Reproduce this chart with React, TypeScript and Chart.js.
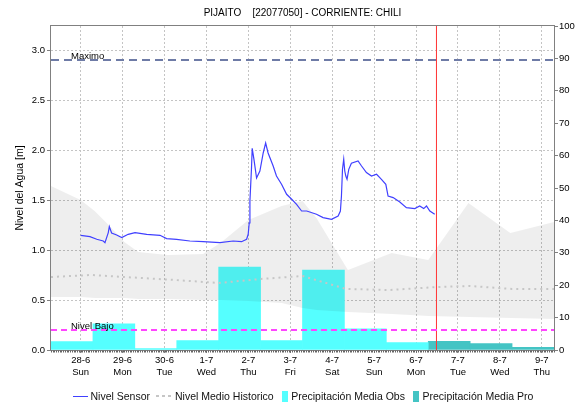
import React, { useEffect, useRef } from 'react';
import { Chart, registerables } from 'chart.js';

Chart.register(...registerables);

// ---------- text ----------
const TITLE = 'PIJAITO    [22077050] - CORRIENTE: CHILI';
const Y_TITLE = 'Nivel del Agua [m]';
const LABEL_MAXIMO = 'Maximo';
const LABEL_BAJO = 'Nivel Bajo';
const LEGEND_SENSOR = 'Nivel Sensor';
const LEGEND_MEAN = 'Nivel Medio Historico';
const LEGEND_OBS = 'Precipitación Media Obs';
const LEGEND_PRO = 'Precipitación Media Pro';

// ---------- axes (x in hours from 28-6 00:00) ----------
const X_MIN = -17; // 27-6 07:00
const X_MAX = 271; // 9-7 07:00
const dayTicks = [0, 24, 48, 72, 96, 120, 144, 168, 192, 216, 240, 264];
const dayLabels = ['28-6', '29-6', '30-6', '1-7', '2-7', '3-7', '4-7', '5-7', '6-7', '7-7', '8-7', '9-7'];
const dayNames = ['Sun', 'Mon', 'Tue', 'Wed', 'Thu', 'Fri', 'Sat', 'Sun', 'Mon', 'Tue', 'Wed', 'Thu'];
const LEVEL_MAX = 3.24;
const levelTicks = [0, 0.5, 1.0, 1.5, 2.0, 2.5, 3.0];
const PRECIP_MAX = 100;
const precipTicks = [0, 10, 20, 30, 40, 50, 60, 70, 80, 90, 100];

// ---------- series ----------
const sensorHours = [
  0, 5.3, 9.2, 12.9, 13.9, 15.8, 16.4, 17.7, 20.6, 23.5, 27.2, 31.1, 37.8, 45.4, 49.2, 54.9,
  62.5, 70.2, 79.7, 87.3, 92.1, 95.0, 95.9, 96.5, 96.9, 97.8, 98.2, 99.2, 100.7, 102.6, 104.5,
  105.9, 107.3, 110.2, 112.1, 115.0, 117.9, 120.8, 123.6, 126.5, 129.4, 135.0, 138.8, 143.6,
  147.4, 148.7, 149.3, 149.9, 150.6, 151.2, 151.8, 152.5, 153.5, 155.0, 158.8, 160.8, 163.6,
  166.5, 169.4, 172.2, 174.7, 176.0, 178.9, 182.7, 186.5, 191.3, 194.1, 196.4, 198.0, 199.9, 202.7,
];
const sensorLevel = [
  1.147, 1.134, 1.107, 1.09, 1.074, 1.174, 1.234, 1.17, 1.15, 1.124, 1.157, 1.174, 1.157, 1.147, 1.114, 1.107,
  1.09, 1.083, 1.074, 1.09, 1.083, 1.107, 1.157, 1.27, 1.49, 1.82, 2.017, 1.907, 1.72, 1.79, 1.97,
  2.07, 1.97, 1.84, 1.74, 1.657, 1.557, 1.507, 1.457, 1.39, 1.39, 1.357, 1.324, 1.307,
  1.34, 1.39, 1.54, 1.807, 1.907, 1.79, 1.74, 1.707, 1.807, 1.867, 1.89, 1.84, 1.774,
  1.74, 1.757, 1.707, 1.657, 1.54, 1.524, 1.48, 1.424, 1.414, 1.44, 1.414, 1.44, 1.39, 1.357,
];

const bandHours = [-17, 0, 8, 16, 25, 33, 50, 70, 80, 96, 115, 127, 135, 153, 178, 199, 222, 246, 271];
const bandUpper = [1.64, 1.5, 1.39, 1.25, 1.08, 0.98, 0.95, 0.96, 1.07, 1.3, 1.44, 1.49, 1.32, 0.8, 0.97, 0.9, 1.47, 1.17, 1.28];
const bandLower = [0.53, 0.53, 0.52, 0.52, 0.52, 0.51, 0.51, 0.5, 0.5, 0.49, 0.47, 0.42, 0.4, 0.38, 0.36, 0.34, 0.33, 0.32, 0.31];

const meanHours = [-17, 6, 25, 54, 79, 103, 127, 152, 177, 204, 223, 247, 271];
const meanLevel = [0.73, 0.75, 0.73, 0.7, 0.67, 0.71, 0.74, 0.61, 0.6, 0.63, 0.64, 0.61, 0.61];

const obsHours = [-5, 19, 43, 67, 91, 115, 139, 163, 187];
const obsPrecip = [2.6, 8.1, 0.4, 2.9, 25.6, 2.9, 24.7, 6.5, 2.3];
const proHours = [211, 235, 259];
const proPrecip = [2.65, 2.0, 0.8];

const MAXIMO_LEVEL = 2.9;
const BAJO_LEVEL = 0.2;
const NOW_HOUR = 203.7;

// ---------- styles ----------
const FONT = '"Liberation Sans", Arial, sans-serif';
const SENSOR_COLOR = '#4040ff';
const MEAN_COLOR = '#c6c6c6';
const OBS_COLOR = '#55ffff';
const PRO_COLOR = '#44c4c4';
const MAX_COLOR = '#6e7ba6';
const BAJO_COLOR = '#ff44ff';
const NOW_COLOR = '#ff3333';
const GRID_COLOR = '#c4c4c4';
const FRAME_COLOR = '#808080';

const zip = (xs: number[], ys: number[]) => xs.map((x, i) => ({ x, y: ys[i] }));

const decorPlugin = {
  id: 'decor',
  afterDraw(chart: any) {
    const { ctx, chartArea } = chart;
    const { left, right, top, bottom } = chartArea;
    const xs = chart.scales.x;
    const ys = chart.scales.y;
    ctx.save();
    // frame
    ctx.strokeStyle = FRAME_COLOR;
    ctx.lineWidth = 1;
    ctx.strokeRect(left - 0.5, top - 0.5, right - left + 1, bottom - top + 1);
    // minor hourly ticks
    ctx.strokeStyle = '#666';
    ctx.beginPath();
    for (let h = Math.ceil(X_MIN); h <= X_MAX; h++) {
      const px = Math.round(xs.getPixelForValue(h)) + 0.5;
      ctx.moveTo(px, bottom + 0.5);
      ctx.lineTo(px, bottom + 2.5);
    }
    ctx.stroke();
    // title
    ctx.fillStyle = '#000';
    ctx.font = '10px ' + FONT;
    ctx.textAlign = 'center';
    ctx.textBaseline = 'middle';
    ctx.fillText(TITLE, (left + right) / 2, 13);
    // threshold labels
    ctx.font = '9.5px ' + FONT;
    ctx.textAlign = 'left';
    ctx.textBaseline = 'alphabetic';
    ctx.fillText(LABEL_MAXIMO, left + 20, ys.getPixelForValue(MAXIMO_LEVEL) - 1);
    ctx.fillText(LABEL_BAJO, left + 20, ys.getPixelForValue(BAJO_LEVEL) - 1);
    ctx.restore();
  },
};

export default function App() {
  const ref = useRef<HTMLCanvasElement>(null);

  useEffect(() => {
    if (!ref.current) return;
    const lineBase = { type: 'line' as const, pointRadius: 0, pointHoverRadius: 0, tension: 0, fill: false, yAxisID: 'y' };
    const chart = new Chart(ref.current, {
      type: 'line',
      data: {
        datasets: [
          { ...lineBase, label: LEGEND_SENSOR, data: zip(sensorHours, sensorLevel), borderColor: SENSOR_COLOR, borderWidth: 1.2, order: 0 },
          { ...lineBase, label: LEGEND_MEAN, data: zip(meanHours, meanLevel), borderColor: MEAN_COLOR, borderWidth: 2, borderDash: [2, 4], order: 1 },
          { ...lineBase, label: LABEL_MAXIMO, data: [{ x: X_MIN, y: MAXIMO_LEVEL }, { x: X_MAX, y: MAXIMO_LEVEL }], borderColor: MAX_COLOR, borderWidth: 2, borderDash: [8, 5], order: 2 },
          { ...lineBase, label: LABEL_BAJO, data: [{ x: X_MIN, y: BAJO_LEVEL }, { x: X_MAX, y: BAJO_LEVEL }], borderColor: BAJO_COLOR, borderWidth: 2, borderDash: [6, 4], order: 2 },
          { ...lineBase, label: 'now', data: [{ x: NOW_HOUR, y: 0 }, { x: NOW_HOUR, y: LEVEL_MAX }], borderColor: NOW_COLOR, borderWidth: 1, order: 2 },
          { ...lineBase, label: 'max hist', data: zip(bandHours, bandUpper), borderColor: 'rgba(0,0,0,0)', borderWidth: 1, fill: 6, backgroundColor: 'rgba(0,0,0,0.065)', order: 4 },
          { ...lineBase, label: 'min hist', data: zip(bandHours, bandLower), borderColor: 'rgba(0,0,0,0)', borderWidth: 1, order: 5 },
          { type: 'bar', label: LEGEND_OBS, data: zip(obsHours, obsPrecip), backgroundColor: OBS_COLOR, borderWidth: 0, yAxisID: 'y2', grouped: false, barPercentage: 1, categoryPercentage: 1, order: 6 } as any,
          { type: 'bar', label: LEGEND_PRO, data: zip(proHours, proPrecip), backgroundColor: PRO_COLOR, borderWidth: 0, yAxisID: 'y2', grouped: false, barPercentage: 1, categoryPercentage: 1, order: 6 } as any,
        ] as any,
      },
      options: {
        responsive: false,
        maintainAspectRatio: false,
        animation: false,
        devicePixelRatio: 1,
        layout: { padding: { top: 26, left: 0, right: 0, bottom: 0 } },
        plugins: { legend: { display: false }, title: { display: false }, tooltip: { enabled: false } },
        scales: {
          x: {
            type: 'linear',
            min: X_MIN,
            max: X_MAX,
            offset: false,
            position: 'bottom',
            afterBuildTicks: (s: any) => { s.ticks = dayTicks.map((v) => ({ value: v })); },
            afterFit: (s: any) => { s.height = 55; },
            grid: { offset: false, color: GRID_COLOR, lineWidth: 1, drawTicks: true, tickLength: 3, tickColor: FRAME_COLOR },
            border: { display: false, dash: [2, 2] },
            ticks: {
              autoSkip: false,
              maxRotation: 0,
              minRotation: 0,
              padding: 2,
              color: '#000',
              font: { family: FONT, size: 9.5 },
              callback: (v: any) => {
                const i = dayTicks.indexOf(Number(v));
                return i >= 0 ? [dayLabels[i], dayNames[i]] : '';
              },
            },
          },
          y: {
            type: 'linear',
            position: 'left',
            min: 0,
            max: LEVEL_MAX,
            afterBuildTicks: (s: any) => { s.ticks = levelTicks.map((v) => ({ value: v })); },
            afterFit: (s: any) => { s.width = 51; },
            grid: { color: GRID_COLOR, lineWidth: 1, tickLength: 4, tickColor: FRAME_COLOR },
            border: { display: false, dash: [2, 2] },
            title: { display: true, text: Y_TITLE, color: '#000', font: { family: FONT, size: 10.5 }, padding: { top: 14, bottom: 0 } },
            ticks: { autoSkip: false, padding: 2, color: '#000', font: { family: FONT, size: 9.5 }, callback: (v: any) => Number(v).toFixed(1) },
          },
          y2: {
            type: 'linear',
            position: 'right',
            min: 0,
            max: PRECIP_MAX,
            afterBuildTicks: (s: any) => { s.ticks = precipTicks.map((v) => ({ value: v })); },
            afterFit: (s: any) => { s.width = 26; },
            grid: { drawOnChartArea: false, tickLength: 4, tickColor: FRAME_COLOR },
            border: { display: false },
            ticks: { autoSkip: false, padding: 1, color: '#000', font: { family: FONT, size: 9.5 }, callback: (v: any) => String(v) },
          },
        } as any,
      },
      plugins: [decorPlugin],
    } as any);
    return () => chart.destroy();
  }, []);

  const textStyle: React.CSSProperties = { color: '#111' };
  return (
    <div style={{ position: 'absolute', left: 0, top: 0, width: 580, height: 405, background: '#fff', overflow: 'hidden' }}>
      <canvas ref={ref} width={580} height={405} style={{ display: 'block', width: 580, height: 405 }} />
      <div
        style={{
          position: 'absolute', left: 73, top: 390, height: 12, display: 'flex', alignItems: 'center',
          whiteSpace: 'nowrap', fontFamily: FONT, fontSize: 10.5, lineHeight: '12px',
        }}
      >
        <span style={{ display: 'inline-block', width: 15, height: 0, borderTop: '1.3px solid ' + SENSOR_COLOR, marginRight: 2.5 }} />
        <span style={{ ...textStyle, marginRight: 6 }}>{LEGEND_SENSOR}</span>
        <span style={{ display: 'inline-block', width: 15, height: 2, background: `repeating-linear-gradient(to right, ${MEAN_COLOR} 0 3px, transparent 3px 6px)`, marginRight: 4 }} />
        <span style={{ ...textStyle, marginRight: 8 }}>{LEGEND_MEAN}</span>
        <span style={{ display: 'inline-block', width: 6, height: 11, background: OBS_COLOR, marginRight: 3.5 }} />
        <span style={{ ...textStyle, marginRight: 8 }}>{LEGEND_OBS}</span>
        <span style={{ display: 'inline-block', width: 6, height: 11, background: PRO_COLOR, marginRight: 3.5 }} />
        <span style={textStyle}>{LEGEND_PRO}</span>
      </div>
    </div>
  );
}
